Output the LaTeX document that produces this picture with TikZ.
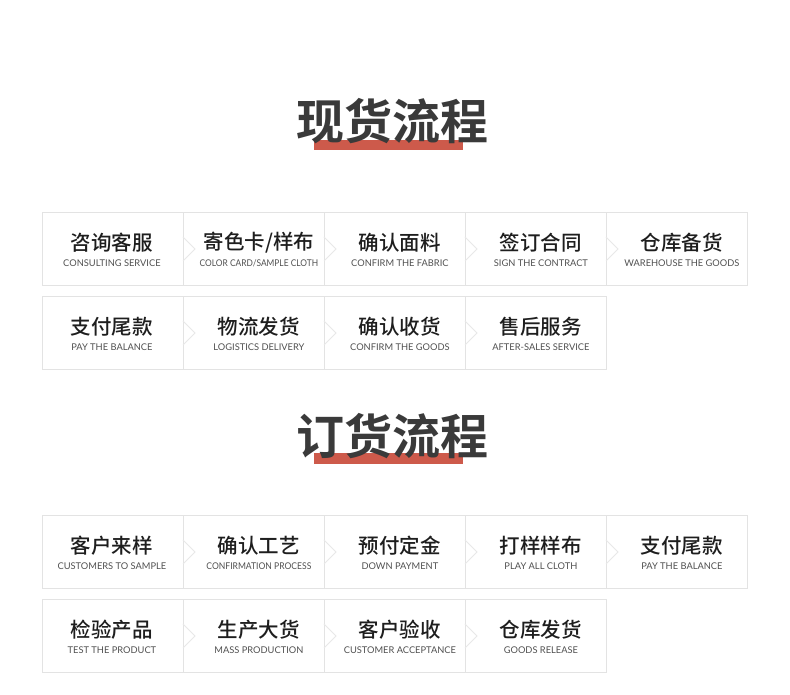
\documentclass[tikz,border=0pt]{standalone}
\usepackage{fontspec}
\newfontfamily\cjk{Noto Sans CJK SC}[BoldFont={Noto Sans CJK SC Bold}]
\newfontfamily\cjkmed{Noto Sans CJK SC Medium}
\newfontfamily\en{Lato}
\definecolor{boxline}{HTML}{E3E3E3}
\definecolor{chevline}{HTML}{E8E8E8}
\definecolor{zhtext}{HTML}{1E1E1E}
\definecolor{entext}{HTML}{505050}
\definecolor{titletext}{HTML}{3A3A3A}
\definecolor{titlebar}{HTML}{CD5A4B}
\tikzset{
  flowbox/.style={draw=boxline, line width=0.8pt, minimum width=141pt, minimum height=73pt, inner sep=0pt, anchor=north west},
  zhlabel/.style={font=\cjkmed\fontsize{20.5}{20.5}\selectfont, text=zhtext, inner sep=0pt},
  enlabel/.style={font=\en\fontsize{9.3}{10}\selectfont, text=entext, inner sep=0pt},
  chev/.style={draw=chevline, line width=0.9pt},
  titlestyle/.style={font=\cjk\bfseries\fontsize{48}{48}\selectfont, text=titletext, inner sep=0pt},
}
% first cell of a row (no chevron)
\newcommand{\flowcell}[5]{%
  \node[flowbox] (#1) at (#2,#3) {};
  \node[zhlabel] (#1zh) at ([xshift=-1pt,yshift=6.5pt]#1.center) {#4};
  \node[enlabel] (#1en) at ([xshift=-1pt,yshift=-14pt]#1.center) {#5};
}
% following cell with chevron on its left edge
\newcommand{\flowcellc}[5]{%
  \node[flowbox] (#1) at (#2,#3) {};
  \draw[chev] ([yshift=12pt]#1.west) -- ([xshift=12pt]#1.west) -- ([yshift=-12pt]#1.west);
  \node[zhlabel] (#1zh) at ([xshift=5pt,yshift=6.5pt]#1.center) {#4};
  \node[enlabel] (#1en) at ([xshift=5pt,yshift=-14pt]#1.center) {#5};
}
\begin{document}
\begin{tikzpicture}[x=1pt,y=-1pt]
\useasboundingbox[fill=white] (0,0) rectangle (790,694);
% Title 1
\fill[titlebar] (314,140) rectangle (463,150);
\node[titlestyle] (t1) at (392.5,121) {现货流程};
% Row 1
\flowcell{a1}{42}{212}{咨询客服}{CONSULTING SERVICE}
\flowcellc{a2}{183}{212}{寄色卡/样布}{\scalebox{0.9}[1]{COLOR CARD/SAMPLE CLOTH}}
\flowcellc{a3}{324}{212}{确认面料}{CONFIRM THE FABRIC}
\flowcellc{a4}{465}{212}{签订合同}{SIGN THE CONTRACT}
\flowcellc{a5}{606}{212}{仓库备货}{WAREHOUSE THE GOODS}
% Row 2
\flowcell{b1}{42}{296}{支付尾款}{PAY THE BALANCE}
\flowcellc{b2}{183}{296}{物流发货}{LOGISTICS DELIVERY}
\flowcellc{b3}{324}{296}{确认收货}{CONFIRM THE GOODS}
\flowcellc{b4}{465}{296}{售后服务}{AFTER-SALES SERVICE}
% Title 2
\fill[titlebar] (314,453) rectangle (463,464);
\node[titlestyle] (t2) at (392.5,436) {订货流程};
% Row 3
\flowcell{c1}{42}{515}{客户来样}{CUSTOMERS TO SAMPLE}
\flowcellc{c2}{183}{515}{确认工艺}{\scalebox{0.92}[1]{CONFIRMATION PROCESS}}
\flowcellc{c3}{324}{515}{预付定金}{DOWN PAYMENT}
\flowcellc{c4}{465}{515}{打样样布}{PLAY ALL CLOTH}
\flowcellc{c5}{606}{515}{支付尾款}{PAY THE BALANCE}
% Row 4
\flowcell{d1}{42}{599}{检验产品}{TEST THE PRODUCT}
\flowcellc{d2}{183}{599}{生产大货}{MASS PRODUCTION}
\flowcellc{d3}{324}{599}{客户验收}{CUSTOMER ACCEPTANCE}
\flowcellc{d4}{465}{599}{仓库发货}{GOODS RELEASE}
\end{tikzpicture}
\end{document}
